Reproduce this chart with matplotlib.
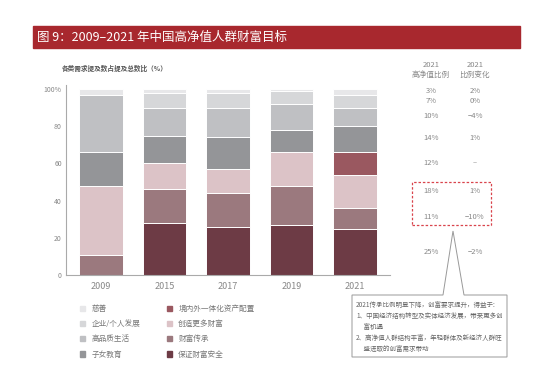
import numpy as np
import matplotlib
matplotlib.use("Agg")
from matplotlib import pyplot as plt
from matplotlib.patches import Rectangle, Polygon

plt.rcParams['font.family'] = ['Noto Sans CJK SC', 'DejaVu Sans']
plt.rcParams['axes.unicode_minus'] = False

# Data (share of mentions, %)
years = ["2009", "2015", "2017", "2019", "2021"]
segments = ["保证财富安全", "财富传承", "创造更多财富", "境内外一体化资产配置",
            "子女教育", "高品质生活", "企业/个人发展", "慈善"]
safety     = [0, 28, 26, 27, 25]
legacy     = [11, 18, 18, 21, 11]
create     = [37, 14, 13, 18, 18]
allocation = [0, 0, 0, 0, 12]
education  = [18, 15, 17, 12, 14]
quality    = [31, 15, 16, 14, 10]
business   = [0, 8, 8, 7, 7]
charity    = [3, 2, 2, 1, 3]
series = [safety, legacy, create, allocation, education, quality, business, charity]
colors = ["#6d3b45", "#9b797e", "#dcc3c7", "#9a5860",
          "#949598", "#bfc0c3", "#d6d7d9", "#e7e7e9"]

share_2021 = ["25%", "11%", "18%", "12%", "14%", "10%", "7%", "3%"]
change_2021 = ["\u22122%", "\u221210%", "1%", "\u2013", "1%", "\u22124%", "0%", "2%"]

W, H = 549, 380
fig = plt.figure(figsize=(W / 100, H / 100), dpi=100)


def fx(x):
    return x / W


def fy(y):
    return 1 - y / H


# title bar
fig.patches.append(Rectangle((fx(33), fy(48)), fx(520) - fx(33), fy(26) - fy(48),
                             transform=fig.transFigure, color="#a8282e", zorder=0))
fig.text(fx(37), fy(37.5), "图 9：2009\u20132021 年中国高净值人群财富目标", color="white",
         fontsize=9, va="center", ha="left")

fig.text(fx(62), fy(68), "各类需求提及数占提及总数比（%）", fontsize=4.8, color="#555555",
         va="center", ha="left", fontweight="bold")

# chart
ax = fig.add_axes([fx(66), fy(275), fx(390) - fx(66), fy(85.3) - fy(275)])
x = np.arange(len(years))
bottom = np.zeros(len(years))
for vals, col in zip(series, colors):
    vals = np.array(vals, dtype=float)
    ax.bar(x, vals, width=0.68, bottom=bottom, color=col, edgecolor="white",
           linewidth=0.7)
    bottom += vals

ax.set_xlim(-0.55, 4.55)
ax.set_ylim(0, 102)
ax.set_yticks([0, 20, 40, 60, 80, 100])
ax.set_yticklabels(["0", "20", "40", "60", "80", "100%"])
ax.set_xticks(x)
ax.set_xticklabels(years)
ax.tick_params(axis="y", length=0, labelsize=5, labelcolor="#888888", pad=3)
ax.tick_params(axis="x", length=0, labelsize=6.5, labelcolor="#888888", pad=5)
for s in ["top", "right"]:
    ax.spines[s].set_visible(False)
for s in ["left", "bottom"]:
    ax.spines[s].set_color("#aaaaaa")
    ax.spines[s].set_linewidth(0.8)

# legend
leg_order = [7, 6, 5, 4, 3, 2, 1, 0]
handles = [Rectangle((0, 0), 1, 1, color=colors[i]) for i in leg_order]
labels = [segments[i] for i in leg_order]
fig.legend(handles, labels, ncol=2, loc="upper left",
           bbox_to_anchor=(fx(73), fy(298)), frameon=False, fontsize=5.5,
           labelcolor="#777777", handlelength=0.7, handleheight=0.7,
           handletextpad=0.8, columnspacing=3.5, labelspacing=0.95)

# right-hand columns
fig.text(fx(431), fy(70), "2021\n高净值比例", fontsize=5.5, color="#888888",
         ha="center", va="center", linespacing=1.4)
fig.text(fx(475), fy(70), "2021\n比例变化", fontsize=5.5, color="#888888",
         ha="center", va="center", linespacing=1.4)
row_y = [251.7, 216.7, 190.7, 163.3, 138.3, 115.7, 100.7, 91]
for yy, a, b in zip(row_y, share_2021, change_2021):
    fig.text(fx(431), fy(yy), a, fontsize=5.5, color="#888888", ha="center", va="center")
    fig.text(fx(475), fy(yy), b, fontsize=5.5, color="#888888", ha="center", va="center")

# dashed highlight box
fig.patches.append(Rectangle((fx(412), fy(225)), fx(491) - fx(412), fy(182) - fy(225),
                             transform=fig.transFigure, fill=False, edgecolor="#d9444c",
                             linestyle=(0, (2, 1.5)), linewidth=0.9))

# callout
pts = [(352, 295), (443, 295), (453, 231), (464, 295), (507, 295), (507, 357), (352, 357)]
fig.patches.append(Polygon([(fx(a), fy(b)) for a, b in pts], closed=True,
                           transform=fig.transFigure, facecolor="white",
                           edgecolor="#999999", linewidth=0.7))
note = ("2021传承比例明显下降，创富要求提升，得益于:\n"
        "1、中国经济结构转型及实体经济发展，带来更多创\n"
        "     富机遇\n"
        "2、高净值人群结构丰富，年轻群体及新经济人群旺\n"
        "     盛进取的创富需求带动")
fig.text(fx(356), fy(301), note, fontsize=4.7, color="#666666", ha="left", va="top",
         linespacing=1.5)

fig.savefig("out.png", dpi=100)
